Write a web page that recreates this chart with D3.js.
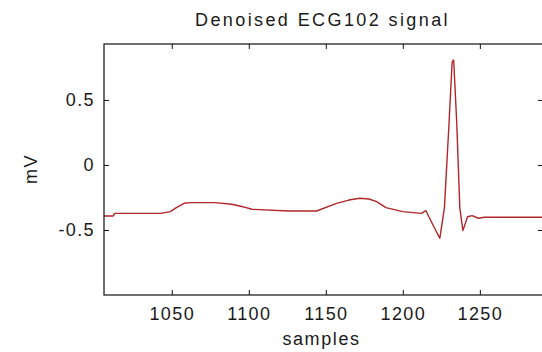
<!DOCTYPE html>
<meta charset="utf-8">
<head>
<style>
body { margin: 0; background: #fff; }
svg { display: block; }
.axis text { font: 18px "Liberation Sans", Arial, sans-serif; letter-spacing: 1.4px; fill: #1a1a1a; }
.title { font: 18px "Liberation Sans", Arial, sans-serif; letter-spacing: 2.4px; fill: #1a1a1a; }
.label { font: 18px "Liberation Sans", Arial, sans-serif; letter-spacing: 1.6px; fill: #1a1a1a; }
.frame { fill: none; stroke: #111; stroke-width: 1.2; }
.signal { fill: none; stroke: #b0262a; stroke-width: 1.4; stroke-linejoin: round; }
</style>
</head>
<body>
<svg width="542" height="352"></svg>
<script src="https://d3js.org/d3.v7.min.js"></script>
<script>

// values
var samples = [1006, 1012, 1013, 1043, 1049, 1053, 1058, 1062, 1078, 1089, 1096, 1102,
               1126, 1144, 1157, 1165, 1172, 1178, 1183, 1189, 1200, 1212, 1215, 1219,
               1224, 1227, 1230, 1232, 1233, 1235, 1237, 1239, 1242, 1245, 1249, 1253, 1291];
var mV = [-0.392, -0.392, -0.372, -0.372, -0.359, -0.328, -0.295, -0.290, -0.290, -0.302, -0.321, -0.341,
          -0.354, -0.354, -0.295, -0.270, -0.256, -0.262, -0.282, -0.328, -0.359, -0.372, -0.352, -0.448,
          -0.564, -0.330, 0.323, 0.790, 0.808, 0.323, -0.330, -0.505, -0.398, -0.390, -0.410, -0.402, -0.402];
var xTicks = [1050, 1100, 1150, 1200, 1250];
var yTicks = [-0.5, 0, 0.5];
var yTickLabels = ["-0.5", "0", "0.5"];

var svg = d3.select("svg"),
    plotL = 104, plotR = 543, plotT = 44, plotB = 295,
    tick = 5;

var x = d3.scaleLinear().domain([1006, 1291]).range([plotL, plotR]);
var y = d3.scaleLinear().domain([-1, 0.93]).range([plotB, plotT]);

var data = samples.map(function(s, i) { return [s, mV[i]]; });

svg.append("path")
    .datum(data)
    .attr("class", "signal")
    .attr("d", d3.line()
        .x(function(d) { return x(d[0]); })
        .y(function(d) { return y(d[1]); }));

// bottom axis with labels, inward ticks
svg.append("g")
    .attr("class", "axis")
    .attr("transform", "translate(0," + plotB + ")")
    .call(d3.axisBottom(x).tickValues(xTicks).tickSize(-tick).tickPadding(12).tickFormat(d3.format("d")))
    .call(function(g) { g.select(".domain").remove(); });

// top axis ticks only
svg.append("g")
    .attr("class", "axis")
    .attr("transform", "translate(0," + plotT + ")")
    .call(d3.axisTop(x).tickValues(xTicks).tickSize(-tick).tickFormat(""))
    .call(function(g) { g.select(".domain").remove(); });

svg.append("g")
    .attr("class", "axis")
    .attr("transform", "translate(" + plotL + ",0)")
    .call(d3.axisLeft(y).tickValues(yTicks).tickSize(-tick).tickPadding(9)
        .tickFormat(function(d, i) { return yTickLabels[i]; }))
    .call(function(g) { g.select(".domain").remove(); });

svg.append("g")
    .attr("class", "axis")
    .attr("transform", "translate(" + plotR + ",0)")
    .call(d3.axisRight(y).tickValues(yTicks).tickSize(-tick).tickFormat(""))
    .call(function(g) { g.select(".domain").remove(); });

svg.selectAll(".axis line").attr("stroke", "#111");

svg.append("rect")
    .attr("class", "frame")
    .attr("x", plotL).attr("y", plotT)
    .attr("width", plotR - plotL).attr("height", plotB - plotT);

svg.append("text")
    .attr("class", "title")
    .attr("x", (plotL + plotR) / 2 - 1)
    .attr("y", 26)
    .attr("text-anchor", "middle")
    .text("Denoised ECG102 signal");

svg.append("text")
    .attr("class", "label")
    .attr("x", (plotL + plotR) / 2 - 2)
    .attr("y", 345)
    .attr("text-anchor", "middle")
    .text("samples");

svg.append("text")
    .attr("class", "label")
    .attr("transform", "translate(37,169) rotate(-90)")
    .attr("text-anchor", "middle")
    .text("mV");

</script>
</body>
</html>
